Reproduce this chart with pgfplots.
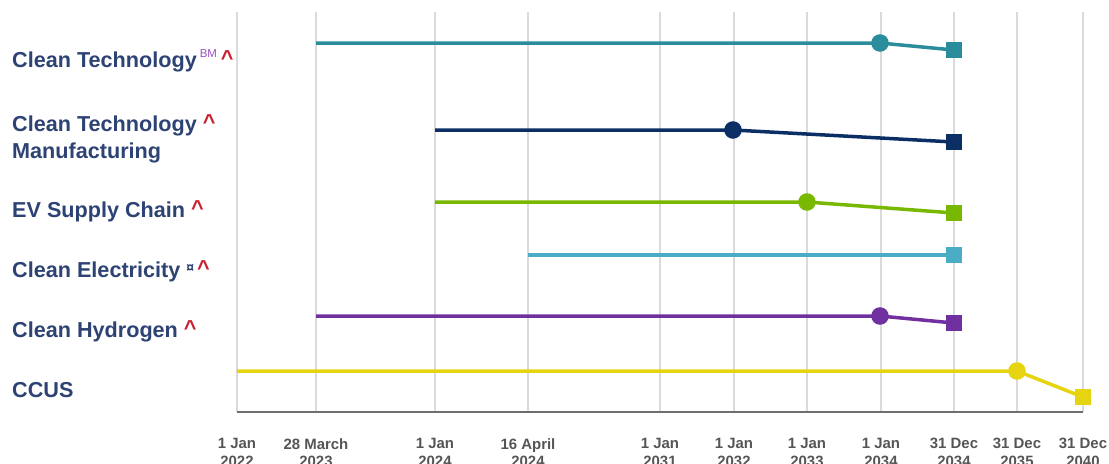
\documentclass[border=0pt]{standalone}
\usepackage{pgfplots}
\pgfplotsset{compat=1.18}
\usepackage{fontspec}
\setmainfont{Liberation Sans}
\definecolor{lab}{HTML}{2D4374}
\definecolor{caretred}{HTML}{C8202F}
\definecolor{bmpurple}{HTML}{9B4FC0}
\definecolor{gridgray}{HTML}{DADADA}
\definecolor{axisgray}{HTML}{6E6E6E}
\definecolor{tickgray}{HTML}{555555}
\definecolor{cteal}{HTML}{2B8C9C}
\definecolor{cnavy}{HTML}{0B2F64}
\definecolor{cgreen}{HTML}{78B800}
\definecolor{clblue}{HTML}{4BACC6}
\definecolor{cpurple}{HTML}{7030A0}
\definecolor{cyellow}{HTML}{E6D410}
\newcommand{\caret}{\raisebox{2bp}{\textcolor{caretred}{\textasciicircum}}}
\newcommand{\supBM}{\hspace{3bp}\raisebox{10bp}{\fontsize{11.5}{11.5}\mdseries\selectfont\textcolor{bmpurple}{BM}}}
\newcommand{\curr}{\raisebox{5bp}{\fontsize{14}{14}\selectfont ¤}}
\begin{document}
\begin{tikzpicture}
\path[use as bounding box] (0,0) rectangle (1109bp,-464bp);
\begin{axis}[
  at={(237bp,-412bp)}, anchor=south west,
  x=1bp, y=1bp, y dir=reverse,
  xmin=237, xmax=1083, ymin=12, ymax=412,
  clip=false,
  axis x line*=bottom, axis y line*=left,
  x axis line style={draw=axisgray, line width=1.5bp, -},
  y axis line style={draw=none},
  xtick={237,316,435,528,660,734,807,881,954,1017,1083},
  xticklabels={{1 Jan\\2022},{28 March\\2023},{1 Jan\\2024},{16 April\\2024},{1 Jan\\2031},{1 Jan\\2032},{1 Jan\\2033},{1 Jan\\2034},{31 Dec\\2034},{31 Dec\\2035},{31 Dec\\2040}},
  xmajorgrids, major grid style={draw=gridgray, line width=1.5bp},
  major tick length=0pt,
  xticklabel style={align=center, font=\bfseries\fontsize{15}{18}\selectfont, text=tickgray, anchor=north, inner sep=0pt, yshift=-26bp},
  ytick={67,158,217,277,337,397},
  yticklabels={{Clean Technology\supBM\hspace{4bp}\caret},{Clean Technology \caret\\Manufacturing},{EV Supply Chain \caret},{Clean Electricity \curr\hspace{3bp}\caret},{Clean Hydrogen \caret},{CCUS}},
  yticklabel style={anchor=base west, align=left, inner sep=0pt, xshift=-225bp, font=\bfseries\fontsize{21.7}{27}\selectfont, text=lab},
  every axis plot/.append style={line width=3.5bp},
]
% Clean Technology
\addplot[cteal, mark=none] coordinates {(316,43) (880,43) (954,50)};
\addplot[cteal, only marks, mark=*, mark size=7bp] coordinates {(880,43)};
\addplot[cteal, only marks, mark=square*, mark size=6.5bp] coordinates {(954,50)};
% Clean Technology Manufacturing
\addplot[cnavy, mark=none] coordinates {(435,130) (733,130) (954,142)};
\addplot[cnavy, only marks, mark=*, mark size=7bp] coordinates {(733,130)};
\addplot[cnavy, only marks, mark=square*, mark size=6.5bp] coordinates {(954,142)};
% EV Supply Chain
\addplot[cgreen, mark=none] coordinates {(435,202) (807,202) (954,213)};
\addplot[cgreen, only marks, mark=*, mark size=7bp] coordinates {(807,202)};
\addplot[cgreen, only marks, mark=square*, mark size=6.5bp] coordinates {(954,213)};
% Clean Electricity
\addplot[clblue, mark=none] coordinates {(528,255) (954,255)};
\addplot[clblue, only marks, mark=square*, mark size=6.5bp] coordinates {(954,255)};
% Clean Hydrogen
\addplot[cpurple, mark=none] coordinates {(316,316) (880,316) (954,323)};
\addplot[cpurple, only marks, mark=*, mark size=7bp] coordinates {(880,316)};
\addplot[cpurple, only marks, mark=square*, mark size=6.5bp] coordinates {(954,323)};
% CCUS
\addplot[cyellow, mark=none] coordinates {(237,371) (1017,371) (1083,397)};
\addplot[cyellow, only marks, mark=*, mark size=7bp] coordinates {(1017,371)};
\addplot[cyellow, only marks, mark=square*, mark size=6.5bp] coordinates {(1083,397)};
\end{axis}
\end{tikzpicture}
\end{document}
